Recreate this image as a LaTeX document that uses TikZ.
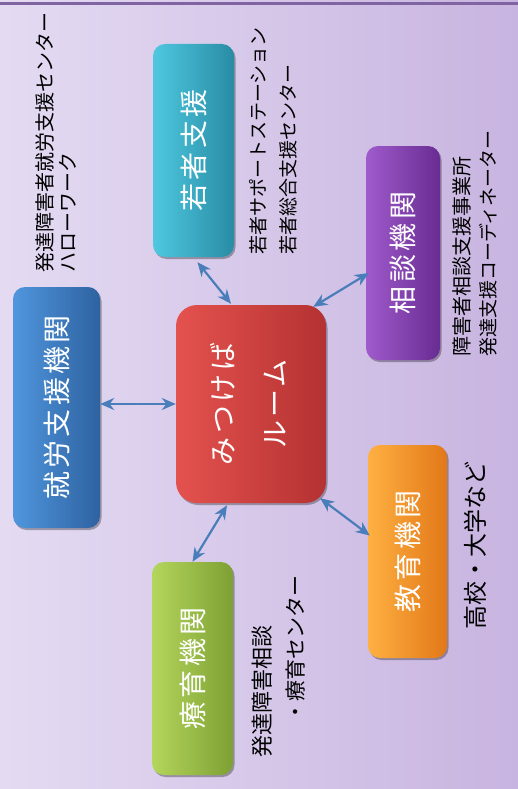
\documentclass[tikz,border=0pt]{standalone}
\usepackage{fontspec}
\newfontfamily\jp{Noto Sans CJK JP}
\newfontfamily\jpsp[LetterSpace=12]{Noto Sans CJK JP}
\usetikzlibrary{arrows.meta,calc,shadows}
\definecolor{bgL}{HTML}{E4DBF2}
\definecolor{bgR}{HTML}{C8B4E0}
\definecolor{topline}{HTML}{8064A2}
\definecolor{arrowc}{HTML}{4A7EBB}
\begin{document}
\begin{tikzpicture}[x=1pt,y=-1pt,
  box/.style={rounded corners=12pt, text=white, align=center, inner sep=0pt,
    font=\jpsp\fontsize{28}{40}\selectfont,
    drop shadow={shadow xshift=1.5pt,shadow yshift=-2pt,opacity=0.3,fill=black}},
  lbl/.style={rotate=90, anchor=west, inner sep=0pt, text=black},
  link/.style={draw=arrowc, line width=2.2pt,
    {Stealth[length=14pt,width=12pt]}-{Stealth[length=14pt,width=12pt]}}]
\useasboundingbox (0,0) rectangle (518,789);
\shade[left color=bgL, right color=bgR] (0,0) rectangle (518,789);
\draw[topline, line width=3pt] (0,4) -- (518,4);

% boxes
\node[box, minimum width=81pt, minimum height=213pt,
  left color={rgb,255:red,78;green,200;blue,224}, middle color={rgb,255:red,54;green,176;blue,204}, right color={rgb,255:red,40;green,140;blue,164}]
  (cyan) at (193.5,150.5) {\rotatebox{90}{若者支援}};
\node[box, minimum width=74pt, minimum height=214pt,
  left color={rgb,255:red,160;green,90;blue,204}, middle color={rgb,255:red,126;green,60;blue,172}, right color={rgb,255:red,104;green,44;blue,146}]
  (purple) at (403,253) {\rotatebox{90}{相談機関}};
\node[box, minimum width=87pt, minimum height=241pt,
  left color={rgb,255:red,80;green,150;blue,222}, middle color={rgb,255:red,58;green,122;blue,198}, right color={rgb,255:red,46;green,98;blue,160}]
  (blue) at (56.5,407.5) {\rotatebox{90}{就労支援機関}};
\node[box, rounded corners=21pt, minimum width=150pt, minimum height=198pt,
  left color={rgb,255:red,228;green,82;blue,78}, middle color={rgb,255:red,210;green,64;blue,64}, right color={rgb,255:red,180;green,50;blue,50}]
  (red) at (251,404) {\rotatebox{90}{\begin{tabular}{@{}c@{}}みつけば\\[12pt]ルーム\end{tabular}}};
\node[box, minimum width=79pt, minimum height=213pt,
  left color={rgb,255:red,254;green,176;blue,66}, middle color={rgb,255:red,245;green,146;blue,40}, right color={rgb,255:red,226;green,120;blue,24}]
  (orange) at (407.5,551.5) {\rotatebox{90}{教育機関}};
\node[box, minimum width=81pt, minimum height=213pt,
  left color={rgb,255:red,180;green,214;blue,92}, middle color={rgb,255:red,154;green,190;blue,68}, right color={rgb,255:red,126;green,160;blue,52}]
  (green) at (192.5,668.5) {\rotatebox{90}{療育機関}};

% labels
\node[lbl, font=\jp\fontsize{20}{20}\selectfont] (a1) at (45,273) {発達障害者就労支援センター};
\node[lbl, font=\jp\fontsize{20}{20}\selectfont] (a2) at (68,273) {ハローワーク};
\node[lbl, font=\jp\fontsize{19}{19}\selectfont] (b1) at (258,255) {若者サポートステーション};
\node[lbl, font=\jp\fontsize{19}{19}\selectfont] (b2) at (288,255) {若者総合支援センター};
\node[lbl, font=\jp\fontsize{20}{20}\selectfont] (c1) at (462,357) {障害者相談支援事業所};
\node[lbl, font=\jp\fontsize{19}{19}\selectfont] (c2) at (488,357) {発達支援コーディネーター};
\node[lbl, font=\jp\fontsize{24}{24}\selectfont] (d1) at (475,630) {高校・大学など};
\node[lbl, font=\jp\fontsize{22}{22}\selectfont] (e1) at (262,758) {発達障害相談};
\node[lbl, font=\jp\fontsize{21}{21}\selectfont] (e2) at (296,723) {・療育センター};

% connectors
\draw[link] (blue.east |- red.west) -- (red.west);
\draw[link] ($(cyan.south)+(4,5)$) -- ($(red.north)+(-20,-1)$);
\draw[link] ($(purple.west)+(3,20)$) -- ($(red.north east)+(-13,2)$);
\draw[link] ($(red.south east)+(-6,-5)$) -- ($(orange.west)+(2,-16)$);
\draw[link] ($(red.south)+(-24,2)$) -- (green.north);
\end{tikzpicture}
\end{document}
